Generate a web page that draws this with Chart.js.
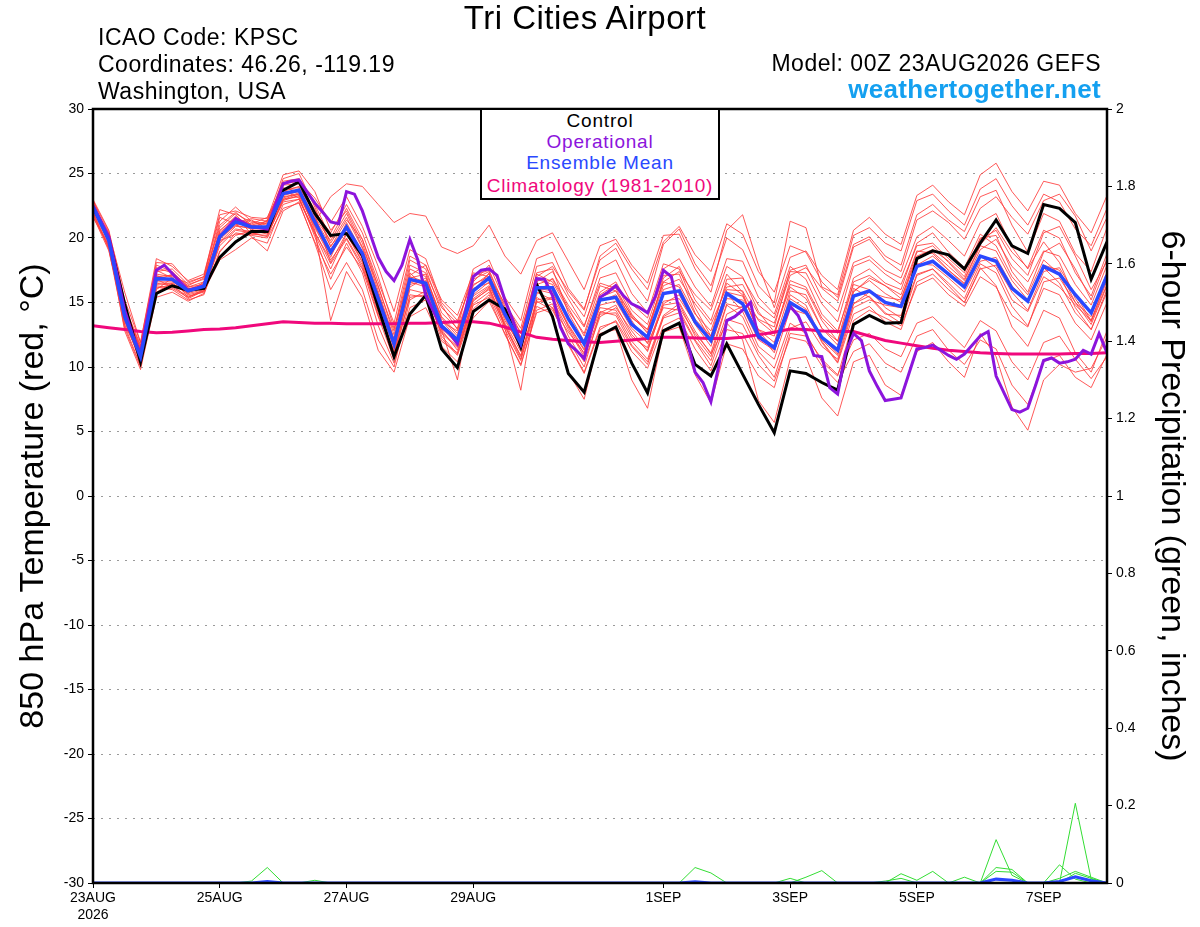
<!DOCTYPE html>
<html>
<head>
<meta charset="utf-8">
<title>Tri Cities Airport - GEFS 850 hPa Temperature</title>
<script src="https://cdn.jsdelivr.net/npm/chart.js@4.4.0/dist/chart.umd.min.js"></script>
<style>
  html, body { margin: 0; padding: 0; background: #fff; }
  #wrap { position: relative; width: 1200px; height: 927px; overflow: hidden;
          font-family: "Liberation Sans", Arial, Helvetica, sans-serif; }
  #chart { position: absolute; left: 0; top: 0; }
  .txt { position: absolute; white-space: nowrap; line-height: 1; color: #000; }
  #legendBox { position: absolute; left: 480px; top: 108px; width: 240px; height: 92px;
               box-sizing: border-box; border: 2px solid #000; background: #fff; }
  #legendBox .txt { left: 0; width: 236px; text-align: center; font-size: 19px; letter-spacing: 0.8px; }
</style>
</head>
<body>
<div id="wrap">
  <canvas id="chart" width="1200" height="927"></canvas>

  <div class="txt" style="left:385px; width:400px; text-align:center; top:1px; font-size:33px; letter-spacing:0.5px;">Tri Cities Airport</div>
  <div class="txt" style="left:98px; top:26px; font-size:23px; letter-spacing:0.5px;">ICAO Code: KPSC</div>
  <div class="txt" style="left:98px; top:53px; font-size:23px; letter-spacing:0.5px;">Coordinates: 46.26, -119.19</div>
  <div class="txt" style="left:98px; top:80px; font-size:23px; letter-spacing:0.5px;">Washington, USA</div>
  <div class="txt" style="right:99px; top:52px; font-size:23px; letter-spacing:0.5px;">Model: 00Z 23AUG2026 GEFS</div>
  <div class="txt" style="right:99px; top:76px; font-size:26px; font-weight:bold; color:#14a0f0; letter-spacing:0.3px;">weathertogether.net</div>

  <div id="legendBox">
    <div class="txt" style="top:1px; color:#000;">Control</div>
    <div class="txt" style="top:22px; color:#8c14dc;">Operational</div>
    <div class="txt" style="top:43px; color:#2a48ff;">Ensemble Mean</div>
    <div class="txt" style="top:66px; color:#f0087c;">Climatology (1981-2010)</div>
  </div>
</div>

<script>
// ---- data (6-hourly from 00Z 23AUG2026, operational is 3-hourly) ----
const stepHours = 6;
const opStepHours = 3;

const xTickHours = [0, 48, 96, 144, 216, 264, 312, 360];
const xTickLabels = ['23AUG', '25AUG', '27AUG', '29AUG', '1SEP', '3SEP', '5SEP', '7SEP'];
const yearLabel = '2026';

const controlTemp = [
  22.4, 19.95, 14.9, 10.4, 15.7, 16.3, 15.95, 16.1, 18.5, 19.7, 20.5, 20.5, 23.7,
  24.35, 21.9, 20.2, 20.35, 18.65, 14.65, 10.8, 14.1, 15.55, 11.4, 9.95, 14.3, 15.2,
  14.5, 11.55, 16.4, 13.9, 9.5, 8.05, 12.45, 13.1, 10.3, 8.0, 12.8, 13.4, 10.2,
  9.3, 11.8, 9.45, 7.1, 4.9, 9.7, 9.5, 8.8, 8.2, 13.3, 14.0, 13.4, 13.45,
  18.4, 19.0, 18.7, 17.6, 19.6, 21.4, 19.4, 18.8, 22.6, 22.3, 21.2, 16.8, 19.7
];

const meanTemp = [
  22.4, 19.8, 13.9, 10.8, 16.85, 16.8, 15.9, 16.25, 20.1, 21.25, 20.85, 20.85, 23.45,
  23.7, 21.25, 18.9, 20.85, 18.8, 15.3, 11.8, 16.8, 16.5, 13.2, 12.1, 15.9, 16.9,
  14.1, 11.85, 16.15, 16.15, 13.75, 11.8, 15.2, 15.4, 13.3, 12.3, 15.7, 15.9, 13.5,
  12.05, 15.7, 14.9, 12.4, 11.5, 15.0, 14.25, 12.3, 11.3, 15.5, 15.9, 15.0, 14.7,
  17.8, 18.2, 17.2, 16.2, 18.6, 18.2, 16.1, 15.1, 17.8, 17.2, 15.6, 14.2, 17.1
];

const operationalTemp = [
  22.5, 21.3, 20.1, 17.3, 14.4, 12.5, 11.05, 14.3, 17.5, 17.9, 17.25, 16.6, 15.95,
  16.1, 16.3, 18.2, 20.1, 20.8, 21.5, 21.2, 20.85, 20.8, 20.7, 22.5, 24.2, 24.4,
  24.5, 23.6, 22.7, 22.0, 21.25, 21.1, 23.6, 23.4, 22.1, 20.3, 18.5, 17.4, 16.7,
  17.9, 19.9, 18.3, 15.55, 14.3, 13.1, 12.6, 11.8, 14.3, 17.0, 17.5, 17.6, 17.1,
  15.2, 13.6, 11.8, 14.3, 16.85, 16.8, 15.55, 13.1, 11.8, 11.3, 10.65, 13.1, 15.4,
  15.8, 16.3, 15.5, 14.9, 14.6, 14.2, 15.5, 17.5, 17.0, 14.4, 12.05, 9.6, 8.8,
  7.3, 10.1, 13.6, 13.9, 14.4, 15.0, 12.3, 11.9, 11.5, 13.1, 14.7, 14.0, 12.6,
  10.9, 10.8, 8.4, 7.9, 11.1, 12.6, 12.05, 9.7, 8.5, 7.4, 7.5, 7.6, 9.5,
  11.4, 11.5, 11.7, 11.3, 10.9, 10.6, 11.0, 11.7, 12.4, 12.75, 9.3, 8.0, 6.7,
  6.5, 6.8, 8.6, 10.5, 10.7, 10.3, 10.4, 10.6, 11.3, 11.0, 12.6, 11.1
];

const climatologyTemp = [
  13.2, 13.05, 12.9, 12.75, 12.65, 12.7, 12.8, 12.9, 12.95, 13.05, 13.2, 13.35, 13.5,
  13.45, 13.4, 13.4, 13.35, 13.35, 13.35, 13.35, 13.4, 13.4, 13.45, 13.5, 13.5, 13.4,
  13.1, 12.7, 12.3, 12.15, 12.05, 11.95, 11.9, 12.0, 12.1, 12.2, 12.3, 12.3, 12.25,
  12.2, 12.2, 12.3, 12.5, 12.7, 12.95, 12.9, 12.8, 12.75, 12.75, 12.4, 12.05, 11.85,
  11.65, 11.45, 11.3, 11.2, 11.1, 11.05, 11.0, 11.0, 11.0, 11.0, 11.05, 11.05, 11.1
];

// ensemble members, 850 hPa temperature (C)
const mem01 = [
  22.1, 20.3, 14.8, 11.2, 17.9, 17.4, 16.2, 16.6, 21.3, 22.4, 21.3, 21.1, 24.6,
  25.0, 22.4, 19.3, 21.4, 19.9, 16.2, 12.8, 18.3, 17.6, 14.2, 13.0, 17.6, 18.3,
  15.4, 13.6, 18.4, 18.9, 16.1, 14.5, 18.3, 19.2, 16.8, 15.1, 19.5, 20.7, 18.0,
  16.3, 20.0, 19.1, 16.3, 15.0, 21.3, 20.8, 16.2, 15.6, 20.2, 20.8, 19.6, 19.0,
  22.9, 23.4, 22.1, 21.0, 23.8, 24.6, 22.5, 21.0, 23.4, 22.8, 20.7, 19.4, 22.3
];
const mem02 = [
  22.8, 20.0, 13.2, 10.1, 16.1, 16.4, 15.3, 15.9, 19.4, 20.6, 20.4, 20.1, 23.0,
  23.2, 20.1, 16.8, 19.6, 17.3, 13.2, 10.3, 14.6, 15.2, 11.6, 10.4, 13.8, 15.1,
  12.6, 10.1, 14.4, 14.9, 11.8, 9.6, 13.1, 13.5, 11.2, 9.9, 13.2, 13.8, 11.4,
  9.7, 12.9, 12.6, 10.2, 8.9, 12.3, 12.0, 10.1, 8.8, 11.2, 11.8, 10.3, 9.6,
  12.4, 12.9, 11.3, 10.2, 12.1, 11.4, 8.6, 7.1, 10.4, 10.9, 9.2, 8.4, 11.0
];
const mem03 = [
  21.6, 19.4, 14.1, 11.5, 17.2, 17.0, 16.5, 17.0, 22.2, 21.8, 20.6, 21.4, 24.2,
  24.4, 23.1, 21.2, 23.2, 20.9, 17.8, 14.3, 19.1, 18.4, 15.0, 13.6, 16.8, 17.4,
  14.5, 12.3, 17.3, 17.6, 14.2, 12.0, 15.6, 16.4, 14.1, 12.6, 16.9, 17.8, 15.2,
  13.6, 17.2, 15.8, 12.6, 11.1, 15.6, 14.8, 12.1, 10.9, 15.9, 16.7, 15.7, 15.0,
  18.6, 19.1, 18.2, 17.0, 19.9, 20.6, 18.4, 17.1, 20.4, 20.9, 18.6, 16.0, 18.2
];
const mem04 = [
  22.5, 19.6, 13.6, 10.5, 16.5, 16.3, 15.8, 16.1, 19.9, 21.0, 21.4, 20.7, 23.6,
  24.0, 21.8, 18.1, 20.4, 18.2, 14.2, 10.9, 16.2, 16.9, 13.8, 12.4, 16.6, 17.9,
  15.1, 12.6, 17.2, 16.6, 14.4, 12.6, 16.3, 15.9, 13.6, 11.8, 14.6, 14.4, 12.1,
  10.5, 14.1, 14.7, 12.9, 12.4, 16.7, 16.2, 13.8, 12.6, 16.9, 17.6, 16.5, 16.0,
  19.6, 20.4, 18.9, 17.7, 20.3, 19.4, 17.0, 15.6, 18.3, 17.2, 14.6, 12.9, 15.8
];
const mem05 = [
  22.0, 19.1, 13.0, 10.0, 16.0, 16.9, 16.2, 16.4, 20.4, 21.5, 20.9, 21.2, 23.9,
  23.6, 20.6, 13.6, 17.4, 15.4, 11.3, 9.6, 13.9, 14.6, 12.0, 11.1, 15.3, 16.2,
  13.3, 10.8, 15.0, 15.3, 12.4, 10.4, 13.9, 14.6, 12.8, 11.2, 14.9, 15.6, 13.3,
  11.6, 15.3, 15.2, 13.7, 13.1, 17.5, 17.9, 15.4, 14.3, 18.1, 18.6, 17.5, 16.9,
  20.1, 20.9, 19.8, 18.6, 21.2, 21.9, 19.3, 17.6, 19.7, 18.1, 15.3, 13.5, 16.4
];
const mem06 = [
  23.0, 20.6, 15.2, 11.9, 18.4, 17.8, 16.7, 17.2, 21.8, 22.1, 21.6, 21.5, 24.9,
  25.2, 23.6, 20.6, 22.1, 19.6, 15.9, 12.2, 17.3, 16.1, 12.4, 11.0, 14.9, 15.8,
  13.2, 10.6, 15.1, 14.4, 12.1, 10.0, 14.2, 14.8, 12.5, 11.3, 14.8, 15.0, 12.8,
  11.0, 13.4, 12.1, 7.4, 5.7, 10.6, 10.8, 7.6, 6.2, 10.4, 10.9, 8.6, 7.8,
  11.2, 11.9, 10.4, 9.2, 12.6, 10.8, 6.9, 5.1, 9.0, 10.2, 9.6, 9.9, 12.3
];
const mem07 = [
  22.3, 19.9, 14.4, 11.0, 17.0, 17.1, 16.0, 16.5, 20.5, 21.7, 20.3, 20.5, 23.1,
  23.5, 21.0, 19.1, 21.0, 18.5, 15.0, 11.4, 16.4, 16.7, 13.5, 12.8, 16.1, 16.5,
  13.8, 11.4, 15.6, 16.9, 14.8, 13.1, 16.9, 17.3, 14.9, 13.8, 17.6, 18.4, 16.2,
  14.7, 18.4, 18.2, 15.4, 14.1, 17.8, 16.8, 14.1, 12.8, 16.4, 16.0, 14.6, 13.8,
  17.2, 17.6, 16.5, 15.3, 18.0, 17.3, 14.7, 13.2, 16.1, 15.6, 13.4, 12.1, 15.0
];
const mem08 = [
  21.8, 19.3, 13.5, 10.6, 16.8, 16.2, 15.5, 15.8, 19.7, 20.9, 20.8, 20.9, 23.4,
  23.8, 21.6, 19.8, 21.9, 19.3, 16.3, 12.5, 17.9, 17.3, 14.6, 13.4, 17.1, 17.5,
  14.7, 12.2, 16.6, 17.4, 15.3, 13.2, 16.5, 16.1, 13.9, 12.7, 16.3, 16.8, 14.9,
  13.3, 16.2, 16.4, 14.1, 13.4, 17.1, 17.7, 16.1, 15.1, 19.3, 19.9, 18.3, 17.4,
  21.4, 22.1, 21.2, 19.9, 22.3, 23.2, 21.6, 20.3, 22.9, 23.4, 21.7, 19.0, 21.6
];
const mem09 = [
  22.6, 20.2, 14.0, 10.3, 15.8, 16.5, 15.6, 15.9, 18.3, 19.1, 20.0, 19.6, 22.6,
  23.0, 20.3, 17.6, 20.3, 18.1, 14.5, 11.1, 16.0, 15.7, 12.6, 11.5, 15.1, 16.1,
  13.4, 11.2, 15.8, 15.2, 12.9, 10.8, 14.1, 14.2, 12.0, 10.6, 14.0, 14.9, 12.4,
  10.8, 14.8, 13.9, 11.2, 9.9, 13.4, 12.6, 10.4, 9.3, 13.6, 14.4, 13.8, 13.2,
  16.3, 16.9, 15.6, 14.7, 17.0, 16.2, 14.0, 13.1, 16.6, 16.9, 15.0, 13.9, 17.4
];
const mem10 = [
  22.2, 19.7, 14.6, 11.4, 17.4, 17.6, 16.4, 16.8, 20.8, 21.9, 21.2, 21.0, 23.8,
  23.9, 22.0, 20.4, 22.6, 20.4, 17.0, 13.0, 17.1, 17.9, 14.8, 12.9, 16.4, 17.0,
  14.9, 13.0, 17.8, 18.1, 15.6, 13.9, 17.6, 18.3, 15.7, 14.2, 18.0, 17.6, 14.6,
  12.4, 15.8, 15.5, 12.9, 11.9, 15.9, 15.6, 13.0, 11.7, 16.1, 15.4, 14.1, 14.0,
  17.9, 18.6, 17.5, 16.5, 19.1, 19.9, 17.8, 16.6, 19.0, 18.6, 16.4, 14.8, 17.9
];
const mem11 = [
  22.9, 20.5, 14.2, 10.9, 16.2, 16.0, 15.2, 15.6, 19.0, 20.2, 20.6, 20.3, 22.9,
  23.3, 20.8, 18.5, 21.2, 18.9, 15.6, 12.0, 17.6, 17.0, 13.9, 12.6, 16.3, 17.2,
  14.2, 12.0, 16.4, 16.8, 14.6, 12.4, 15.8, 16.6, 14.4, 13.3, 17.1, 17.2, 14.2,
  12.1, 15.7, 14.3, 11.6, 10.6, 14.5, 14.1, 12.0, 10.4, 14.6, 15.2, 14.8, 14.6,
  18.0, 17.9, 16.9, 15.8, 18.2, 18.5, 16.3, 15.0, 17.7, 16.5, 14.2, 12.9, 16.0
];
const mem12 = [
  21.9, 19.2, 13.3, 10.7, 16.6, 16.6, 15.9, 16.3, 20.0, 21.0, 20.7, 20.7, 23.2,
  23.4, 20.9, 18.7, 20.6, 18.4, 14.8, 11.6, 16.6, 16.2, 13.0, 11.8, 15.6, 16.6,
  13.6, 11.6, 16.0, 15.7, 13.3, 11.4, 14.6, 14.4, 12.3, 11.5, 15.1, 15.3, 13.4,
  12.3, 16.0, 15.9, 13.6, 12.6, 16.2, 15.3, 13.0, 12.0, 16.6, 17.1, 16.3, 15.6,
  19.0, 18.8, 17.5, 16.4, 18.6, 17.7, 15.2, 14.3, 17.0, 16.2, 14.8, 13.6, 16.7
];
const mem13 = [
  22.4, 20.0, 14.7, 11.7, 17.7, 17.3, 16.3, 16.9, 21.0, 22.0, 21.0, 21.3, 24.4,
  24.6, 22.6, 20.0, 22.3, 19.9, 16.6, 13.4, 18.6, 17.9, 15.2, 14.0, 17.3, 17.0,
  14.4, 12.7, 16.8, 16.4, 13.6, 11.9, 15.4, 15.9, 14.0, 12.9, 16.6, 16.2, 13.7,
  12.4, 16.8, 16.9, 14.8, 13.8, 17.4, 17.3, 14.9, 13.5, 17.8, 18.3, 17.2, 16.4,
  19.4, 19.6, 18.4, 17.3, 20.0, 20.2, 17.4, 15.8, 18.9, 19.6, 17.6, 15.2, 18.4
];
const mem14 = [
  22.7, 19.5, 12.8, 9.8, 15.4, 15.8, 15.1, 15.7, 18.9, 20.4, 20.2, 20.0, 22.3,
  22.7, 19.7, 17.2, 19.3, 17.6, 13.9, 10.6, 15.6, 15.4, 12.2, 10.9, 14.5, 15.6,
  12.9, 10.5, 14.7, 14.1, 9.6, 7.5, 12.6, 12.9, 9.0, 6.8, 12.7, 13.1, 9.4,
  7.2, 11.8, 11.4, 9.3, 8.4, 12.6, 12.4, 10.6, 9.4, 12.1, 12.6, 11.4, 10.8,
  13.4, 13.9, 12.7, 11.5, 13.6, 12.8, 10.4, 9.0, 11.9, 12.4, 10.6, 9.1, 10.8
];
const mem15 = [
  21.7, 19.0, 13.8, 11.3, 17.1, 16.7, 15.7, 16.0, 20.2, 21.4, 21.1, 21.6, 24.1,
  24.2, 22.2, 19.6, 21.6, 19.2, 15.7, 12.1, 17.0, 16.6, 13.1, 11.9, 15.5, 16.3,
  13.9, 12.1, 17.0, 17.8, 15.9, 14.4, 18.6, 19.6, 17.6, 16.0, 19.7, 20.9, 18.7,
  17.4, 21.1, 20.3, 17.4, 15.8, 19.4, 18.9, 16.6, 15.4, 19.5, 20.1, 18.6, 17.9,
  21.8, 22.6, 21.4, 20.5, 23.2, 23.7, 21.0, 18.9, 21.9, 21.3, 18.8, 17.4, 20.8
];
const mem16 = [
  22.1, 19.8, 14.3, 11.1, 16.7, 17.2, 16.1, 16.2, 20.6, 21.6, 21.0, 20.8, 23.7,
  23.1, 20.4, 18.3, 20.0, 17.9, 14.0, 11.3, 16.9, 17.2, 13.6, 12.2, 16.0, 16.8,
  14.0, 11.7, 16.1, 15.9, 13.1, 11.0, 14.8, 15.1, 13.0, 11.9, 16.0, 16.4, 14.1,
  12.8, 16.5, 15.6, 12.8, 11.4, 15.3, 14.5, 11.9, 10.3, 14.1, 14.7, 13.5, 12.9,
  16.6, 17.2, 16.0, 15.0, 17.6, 17.9, 15.8, 14.4, 17.4, 17.7, 15.6, 13.6, 16.9
];
const mem17 = [
  22.6, 20.4, 15.8, 11.9, 18.1, 18.0, 16.6, 17.0, 21.6, 21.1, 20.1, 19.0, 22.1,
  22.8, 19.6, 16.0, 18.1, 16.0, 12.1, 10.0, 15.2, 15.9, 12.9, 9.0, 15.8, 17.3,
  13.0, 8.2, 15.4, 14.6, 11.7, 9.5, 12.9, 13.6, 11.6, 10.2, 13.8, 14.2, 12.0,
  10.1, 13.7, 13.3, 10.9, 9.2, 13.0, 13.5, 11.6, 10.6, 14.9, 15.8, 15.4, 15.2,
  18.9, 19.4, 18.1, 16.8, 19.5, 20.8, 18.9, 17.7, 20.6, 20.0, 17.3, 15.5, 18.8
];
const mem18 = [
  22.3, 19.6, 13.7, 10.4, 16.4, 16.5, 15.7, 16.6, 20.3, 21.2, 21.5, 21.3, 23.3,
  23.6, 21.2, 23.2, 24.2, 24.0, 22.6, 21.2, 21.9, 21.7, 19.3, 18.8, 19.4, 21.0,
  18.6, 17.2, 19.8, 20.4, 18.2, 16.0, 19.4, 19.9, 17.9, 16.5, 20.2, 20.3, 17.6,
  15.8, 20.6, 21.8, 17.9, 14.6, 18.5, 19.0, 17.1, 16.0, 20.6, 21.6, 20.3, 19.5,
  23.3, 24.1, 22.8, 21.8, 24.9, 25.8, 23.6, 22.1, 24.4, 24.1, 21.9, 20.4, 23.3
];
const mem19 = [
  22.0, 19.4, 14.5, 11.6, 17.5, 16.9, 15.4, 15.9, 19.6, 20.7, 20.5, 20.4, 23.0,
  23.4, 21.5, 19.4, 20.8, 18.6, 15.4, 11.9, 16.7, 16.4, 12.9, 11.3, 14.8, 15.4,
  12.5, 10.2, 14.2, 14.6, 12.7, 11.1, 15.1, 15.6, 13.8, 12.9, 16.6, 17.4, 15.6,
  14.4, 17.8, 17.0, 14.3, 12.7, 16.4, 16.0, 13.6, 12.0, 15.8, 16.9, 16.3, 15.3,
  18.5, 18.9, 17.8, 16.7, 19.4, 19.0, 16.7, 15.2, 17.9, 17.5, 15.0, 13.3, 16.3
];
const mem20 = [
  22.9, 20.1, 13.9, 10.2, 16.3, 16.1, 15.4, 16.0, 19.8, 20.3, 20.3, 20.2, 22.8,
  23.0, 20.5, 18.0, 19.9, 17.7, 14.6, 11.0, 15.4, 15.6, 12.7, 11.6, 15.2, 16.0,
  13.1, 10.9, 15.2, 15.4, 13.2, 11.3, 14.3, 14.0, 11.7, 10.4, 13.9, 14.6, 12.6,
  11.1, 14.9, 14.6, 12.1, 11.3, 14.8, 14.4, 12.3, 11.0, 14.9, 15.5, 14.2, 13.4,
  17.1, 17.6, 16.3, 15.0, 17.7, 16.3, 13.1, 11.6, 14.4, 13.8, 11.1, 9.6, 12.8
];
const memberTemps = [mem01, mem02, mem03, mem04, mem05, mem06, mem07, mem08, mem09, mem10,
                     mem11, mem12, mem13, mem14, mem15, mem16, mem17, mem18, mem19, mem20];

// 6-hour precipitation (inches), members that had any
const pcp01 = [
  0, 0, 0, 0, 0, 0, 0, 0, 0, 0, 0.005, 0.04, 0,
  0, 0, 0, 0, 0, 0, 0, 0, 0, 0, 0, 0, 0,
  0, 0, 0, 0, 0, 0, 0, 0, 0, 0, 0, 0, 0.04,
  0.026, 0, 0, 0, 0, 0, 0, 0, 0, 0, 0, 0, 0,
  0, 0, 0, 0, 0, 0.112, 0.02, 0, 0, 0, 0, 0, 0
];
const pcp02 = [
  0, 0, 0, 0, 0, 0, 0, 0, 0, 0, 0, 0, 0,
  0, 0.007, 0, 0, 0, 0, 0, 0, 0, 0, 0, 0, 0,
  0, 0, 0, 0, 0, 0, 0, 0, 0, 0, 0, 0, 0,
  0, 0, 0, 0, 0, 0, 0.015, 0.032, 0, 0, 0, 0, 0,
  0, 0, 0, 0, 0, 0.04, 0.035, 0, 0, 0, 0, 0, 0
];
const pcp03 = [
  0, 0, 0, 0, 0, 0, 0, 0, 0, 0, 0, 0, 0,
  0, 0, 0, 0, 0, 0, 0, 0, 0, 0, 0, 0, 0,
  0, 0, 0, 0, 0, 0, 0, 0, 0, 0, 0, 0, 0,
  0, 0, 0, 0, 0, 0.012, 0, 0, 0, 0, 0, 0, 0.024,
  0.007, 0.03, 0, 0, 0, 0, 0, 0, 0, 0, 0.025, 0.012, 0
];
const pcp04 = [
  0, 0, 0, 0, 0, 0, 0, 0, 0, 0, 0, 0, 0,
  0, 0, 0, 0, 0, 0, 0, 0, 0, 0, 0, 0, 0,
  0, 0, 0, 0, 0, 0, 0, 0, 0, 0, 0, 0, 0,
  0, 0, 0, 0, 0, 0, 0, 0, 0, 0, 0, 0, 0,
  0, 0, 0, 0.015, 0, 0, 0, 0, 0, 0.047, 0.01, 0, 0
];
const pcp05 = [
  0, 0, 0, 0, 0, 0, 0, 0, 0, 0, 0, 0, 0,
  0, 0, 0, 0, 0, 0, 0, 0, 0, 0, 0, 0, 0,
  0, 0, 0, 0, 0, 0, 0, 0, 0, 0, 0, 0, 0,
  0, 0, 0, 0, 0, 0, 0, 0, 0, 0, 0, 0, 0,
  0, 0, 0, 0, 0, 0.03, 0.028, 0, 0, 0, 0.206, 0.01, 0
];
const pcp06 = [
  0, 0, 0, 0, 0, 0, 0, 0, 0, 0, 0, 0, 0,
  0, 0, 0, 0, 0, 0, 0, 0, 0, 0, 0, 0, 0,
  0, 0, 0, 0, 0, 0, 0, 0, 0, 0, 0, 0, 0,
  0, 0, 0, 0, 0, 0, 0, 0, 0, 0, 0, 0.005, 0.012,
  0, 0, 0, 0, 0, 0, 0, 0, 0, 0.012, 0.03, 0.015, 0
];
const memberPrecip = [pcp01, pcp02, pcp03, pcp04, pcp05, pcp06];

const meanPrecip = [
  0, 0, 0, 0, 0, 0, 0, 0, 0, 0, 0, 0.004, 0,
  0, 0, 0, 0, 0, 0, 0, 0, 0, 0, 0, 0, 0,
  0, 0, 0, 0, 0, 0, 0, 0, 0, 0, 0, 0, 0.003,
  0, 0, 0, 0, 0, 0, 0, 0, 0, 0, 0, 0, 0,
  0, 0, 0, 0, 0, 0.01, 0.007, 0, 0, 0.004, 0.016, 0.006, 0
];

// ---- chart ----
const FONT = '"Liberation Sans", Arial, Helvetica, sans-serif';
Chart.defaults.font.family = FONT;
Chart.defaults.color = '#000';

function toPoints(values, step) {
    return values.map((v, i) => ({ x: i * step, y: v }));
}

function lineSet(label, values, step, color, width, axis, order) {
    return {
        label: label,
        data: toPoints(values, step),
        borderColor: color,
        borderWidth: width,
        pointRadius: 0,
        tension: 0,
        fill: false,
        yAxisID: axis,
        order: order,
    };
}

const datasets = [];
memberTemps.forEach((m, idx) => {
    datasets.push(lineSet('Member ' + (idx + 1), m, stepHours, 'rgba(255,60,60,0.85)', 1, 'y', 8));
});
memberPrecip.forEach((p, idx) => {
    datasets.push(lineSet('Precip member ' + (idx + 1), p, stepHours, '#33dd33', 1, 'y2', 6));
});
datasets.push(lineSet('Mean precip', meanPrecip, stepHours, '#2a48ff', 3, 'y2', 5));
datasets.push(lineSet('Climatology (1981-2010)', climatologyTemp, stepHours, '#f0087c', 3, 'y', 4));
datasets.push(lineSet('Control', controlTemp, stepHours, '#000000', 3, 'y', 3));
datasets.push(lineSet('Operational', operationalTemp, opStepHours, '#8c14dc', 3, 'y', 2));
datasets.push(lineSet('Ensemble Mean', meanTemp, stepHours, '#2a48ff', 3.5, 'y', 1));

// black frame round the plot area
const framePlugin = {
    id: 'frame',
    afterDatasetsDraw(chart) {
        const { ctx, chartArea } = chart;
        ctx.save();
        ctx.strokeStyle = '#000';
        ctx.lineWidth = 2.5;
        ctx.strokeRect(chartArea.left, chartArea.top,
            chartArea.right - chartArea.left, chartArea.bottom - chartArea.top);
        ctx.restore();
    }
};

new Chart(document.getElementById('chart'), {
    type: 'line',
    data: { datasets: datasets },
    plugins: [framePlugin],
    options: {
        responsive: false,
        animation: false,
        events: [],
        layout: { padding: { top: 109, left: 0, right: 0, bottom: 0 } },
        plugins: {
            legend: { display: false },
            tooltip: { enabled: false },
        },
        scales: {
            x: {
                type: 'linear',
                position: 'bottom',
                min: 0,
                max: 384,
                afterBuildTicks: (s) => { s.ticks = xTickHours.map(v => ({ value: v })); },
                afterFit: (s) => { s.height = 44; },
                ticks: {
                    autoSkip: false,
                    maxRotation: 0,
                    padding: 2,
                    font: { size: 14 },
                    color: '#000',
                    callback: (v) => {
                        const i = xTickHours.indexOf(v);
                        if (i < 0) return '';
                        return i === 0 ? [xTickLabels[0], yearLabel] : xTickLabels[i];
                    },
                },
                grid: { drawOnChartArea: false, drawTicks: true, tickLength: 5, color: '#000', lineWidth: 1 },
                border: { display: false },
            },
            y: {
                type: 'linear',
                position: 'left',
                min: -30,
                max: 30,
                afterFit: (s) => { s.width = 93; },
                ticks: { stepSize: 5, padding: 4, font: { size: 14 }, color: '#000' },
                grid: { drawOnChartArea: true, drawTicks: true, tickLength: 5,
                        color: '#9a9a9a', lineWidth: 1, tickColor: '#000', tickWidth: 1 },
                border: { display: false, dash: [2, 6] },
                title: {
                    display: true,
                    text: '850 hPa Temperature (red, \u00B0C)',
                    font: { size: 34 },
                    color: '#000',
                    padding: { top: 13, bottom: 0 },
                },
            },
            y2: {
                type: 'linear',
                position: 'right',
                min: 0,
                max: 2,
                afterFit: (s) => { s.width = 93; },
                ticks: {
                    stepSize: 0.2,
                    padding: 4,
                    font: { size: 14 },
                    color: '#000',
                    callback: (v) => String(Number(v.toFixed(1))),
                },
                grid: { drawOnChartArea: false, drawTicks: true, tickLength: 5, color: '#000', lineWidth: 1 },
                border: { display: false },
                title: {
                    display: true,
                    text: '6-hour Precipitation (green, inches)',
                    font: { size: 34 },
                    color: '#000',
                    padding: { top: 8, bottom: 0 },
                },
            },
        },
    },
});
</script>
</body>
</html>
